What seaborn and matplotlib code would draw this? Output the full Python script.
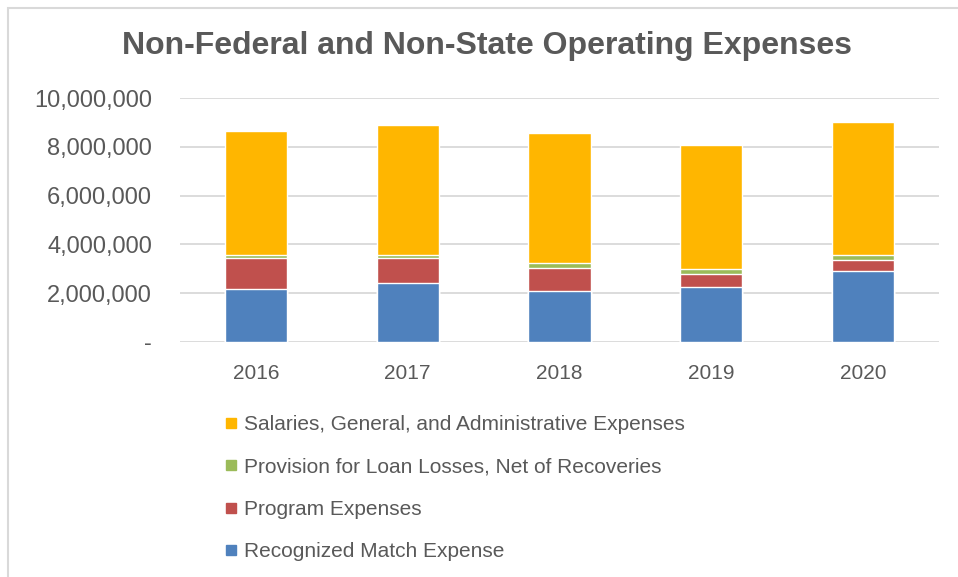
import seaborn as sns
import pandas as pd
import numpy as np
import matplotlib.pyplot as plt
from matplotlib.lines import Line2D
from matplotlib.patches import Rectangle
from matplotlib.ticker import FuncFormatter

years = ['2016', '2017', '2018', '2019', '2020']
recognized_match = [2160000, 2400000, 2080000, 2240000, 2910000]
program_expenses = [1290000, 1050000, 970000, 560000, 460000]
loan_losses = [100000, 100000, 170000, 180000, 180000]
salaries_admin = [5100000, 5340000, 5350000, 5090000, 5490000]

series_names = ['Recognized Match Expense', 'Program Expenses',
                'Provision for Loan Losses, Net of Recoveries',
                'Salaries, General, and Administrative Expenses']
series_colors = ['#4F81BD', '#C0504D', '#9BBB59', '#FFB600']

sns.set_style('white')
plt.rcParams['font.family'] = ['Liberation Sans', 'DejaVu Sans']
text_color = '#595959'

df = pd.DataFrame({
    'year': years,
    series_names[0]: recognized_match,
    series_names[1]: program_expenses,
    series_names[2]: loan_losses,
    series_names[3]: salaries_admin,
})
cum = df[series_names].cumsum(axis=1)

fig = plt.figure(figsize=(9.58, 5.77), dpi=100)
ax = fig.add_axes([0.1879, 0.4073, 0.7923, 0.4227])

# stacked bars: draw the running totals from the top down
for name, color in reversed(list(zip(series_names, series_colors))):
    sns.barplot(x=df['year'], y=cum[name], color=color, width=0.41,
                saturation=1, ax=ax, zorder=3)

ax.set_ylim(0, 10000000)
ax.set_yticks(np.arange(0, 10000001, 2000000))
ax.yaxis.set_major_formatter(FuncFormatter(lambda v, p: '-' if v == 0 else f'{int(v):,}'))
ax.grid(axis='y', color='#D9D9D9', linewidth=1.3, zorder=0)
ax.set_axisbelow(True)
for s in ax.spines.values():
    s.set_visible(False)
ax.set_xlabel('')
ax.set_ylabel('')
ax.tick_params(axis='y', length=0, pad=20, labelsize=17, labelcolor=text_color)
ax.tick_params(axis='x', length=0, pad=16, labelsize=15, labelcolor=text_color)

fig.suptitle('Non-Federal and Non-State Operating Expenses', x=0.508, y=0.920,
             fontsize=23, fontweight='bold', color=text_color, va='center')

handles = [Line2D([], [], marker='s', linestyle='', markersize=7.5,
                  markerfacecolor=c, markeredgecolor=c)
           for c in series_colors[::-1]]
fig.legend(handles, series_names[::-1], loc='upper left',
           bbox_to_anchor=(0.2345, 0.281), frameon=False, fontsize=15,
           labelcolor=text_color, handlelength=0.6, handletextpad=0.35,
           labelspacing=1.13, borderpad=0, borderaxespad=0)

fig.patches.append(Rectangle((8 / 958, -0.05), 1.1, 1 - 8 / 577 + 0.05,
                             transform=fig.transFigure, fill=False,
                             edgecolor='#D9D9D9', linewidth=1.5))

fig.savefig('out.png', dpi=100)
